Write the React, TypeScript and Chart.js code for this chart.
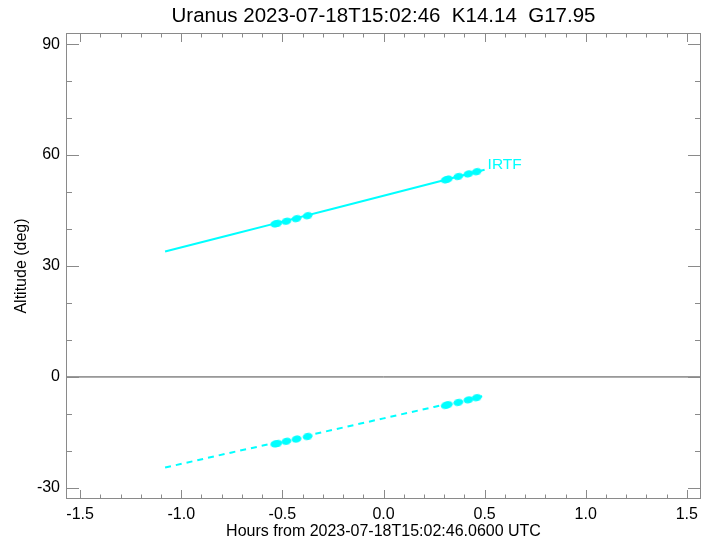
import React, { useEffect, useRef } from "react";
import { Chart, registerables } from "chart.js";

Chart.register(...registerables);

const TITLE = "Uranus 2023-07-18T15:02:46  K14.14  G17.95";
const X_TITLE = "Hours from 2023-07-18T15:02:46.0600 UTC";
const Y_TITLE = "Altitude (deg)";
const SITE_LABEL = "IRTF";

// altitude tracks (solid = target, dashed = lower track)
const lineHours = [-1.08, -0.75, -0.5, -0.25, 0, 0.25, 0.5];
const upperAltitude = [33.9, 38.5, 42.0, 45.5, 49.0, 52.5, 56.0];
const lowerAltitude = [-24.5, -20.4, -17.4, -14.3, -11.2, -8.1, -5.1];

// observation markers
const obsHours = [-0.535, -0.525, -0.48, -0.43, -0.375, 0.308, 0.318, 0.37, 0.42, 0.461];
const obsUpper = [41.4, 41.5, 42.1, 42.8, 43.6, 53.3, 53.5, 54.2, 54.9, 55.5];
const obsLower = [-18.1, -18.0, -17.4, -16.8, -16.1, -7.7, -7.5, -6.9, -6.2, -5.6];

const xTicks = [-1.5, -1.0, -0.5, 0, 0.5, 1.0, 1.5];
const yTicks = [-30, 0, 30, 60, 90];
const xRange = [-1.57, 1.57];
const yRange = [-33, 93];
const zeroLevel = [0, 0];

const FONT = "'Liberation Sans', Arial, Helvetica, sans-serif";
const CYAN = "#00ffff";
const AXIS = "#8a8a8a";

function makeEllipse(w: number, h: number, color: string) {
  const c = document.createElement("canvas");
  c.width = w;
  c.height = h;
  const ctx = c.getContext("2d")!;
  ctx.fillStyle = color;
  ctx.beginPath();
  ctx.ellipse(w / 2, h / 2, w / 2, h / 2, 0, 0, Math.PI * 2);
  ctx.fill();
  return c;
}

const framePlugin = {
  id: "frame",
  afterDraw(chart: any) {
    const { ctx, chartArea: a, scales } = chart;
    const x = scales.x;
    const y = scales.y;
    ctx.save();
    ctx.strokeStyle = AXIS;
    ctx.lineWidth = 1;
    ctx.strokeRect(a.left + 0.5, a.top + 0.5, a.right - a.left - 1, a.bottom - a.top - 1);
    ctx.beginPath();
    // x ticks (major + 4 minor per interval), bottom and top, pointing inward
    for (let i = 0; i < xTicks.length; i++) {
      const px = Math.round(x.getPixelForValue(xTicks[i])) + 0.5;
      ctx.moveTo(px, a.bottom);
      ctx.lineTo(px, a.bottom - 9);
      ctx.moveTo(px, a.top);
      ctx.lineTo(px, a.top + 9);
      if (i < xTicks.length - 1) {
        const step = (xTicks[i + 1] - xTicks[i]) / 5;
        for (let k = 1; k < 5; k++) {
          const mx = Math.round(x.getPixelForValue(xTicks[i] + k * step)) + 0.5;
          ctx.moveTo(mx, a.bottom);
          ctx.lineTo(mx, a.bottom - 4.5);
          ctx.moveTo(mx, a.top);
          ctx.lineTo(mx, a.top + 4.5);
        }
      }
    }
    // y ticks (major + 2 minor per interval), left and right, pointing inward
    for (let i = 0; i < yTicks.length; i++) {
      const py = Math.round(y.getPixelForValue(yTicks[i])) + 0.5;
      ctx.moveTo(a.left, py);
      ctx.lineTo(a.left + 13, py);
      ctx.moveTo(a.right, py);
      ctx.lineTo(a.right - 13, py);
      if (i < yTicks.length - 1) {
        const step = (yTicks[i + 1] - yTicks[i]) / 3;
        for (let k = 1; k < 3; k++) {
          const my = Math.round(y.getPixelForValue(yTicks[i] + k * step)) + 0.5;
          ctx.moveTo(a.left, my);
          ctx.lineTo(a.left + 6, my);
          ctx.moveTo(a.right, my);
          ctx.lineTo(a.right - 6, my);
        }
      }
    }
    ctx.stroke();

    // site label at the end of the solid track
    const n = lineHours.length - 1;
    const ex = x.getPixelForValue(lineHours[n]);
    const ey = y.getPixelForValue(upperAltitude[n]);
    ctx.fillStyle = CYAN;
    ctx.font = `15.5px ${FONT}`;
    ctx.textAlign = "left";
    ctx.textBaseline = "alphabetic";
    ctx.fillText(SITE_LABEL, ex + 3, ey - 0.5);
    ctx.restore();
  },
};

export default function App() {
  const ref = useRef<HTMLCanvasElement | null>(null);

  useEffect(() => {
    if (!ref.current) return;
    const marker = makeEllipse(10, 7, CYAN);
    const chart = new Chart(ref.current, {
      type: "scatter",
      data: {
        datasets: [
          {
            label: "zero",
            data: xRange.map((v, i) => ({ x: v, y: zeroLevel[i] })),
            showLine: true,
            borderColor: "#4a4a4a",
            borderWidth: 1,
            pointRadius: 0,
          },
          {
            label: "upper",
            data: lineHours.map((h, i) => ({ x: h, y: upperAltitude[i] })),
            showLine: true,
            borderColor: CYAN,
            borderWidth: 2,
            pointRadius: 0,
          },
          {
            label: "lower",
            data: lineHours.map((h, i) => ({ x: h, y: lowerAltitude[i] })),
            showLine: true,
            borderColor: CYAN,
            borderWidth: 2,
            borderDash: [6, 5],
            pointRadius: 0,
          },
          {
            label: "upper obs",
            data: obsHours.map((h, i) => ({ x: h, y: obsUpper[i] })),
            showLine: false,
            pointStyle: marker as any,
            pointRotation: -14,
            backgroundColor: CYAN,
            borderColor: CYAN,
          },
          {
            label: "lower obs",
            data: obsHours.map((h, i) => ({ x: h, y: obsLower[i] })),
            showLine: false,
            pointStyle: marker as any,
            pointRotation: -12,
            backgroundColor: CYAN,
            borderColor: CYAN,
          },
        ],
      },
      options: {
        animation: false,
        responsive: false,
        layout: { padding: { left: 0, right: 9, top: 0, bottom: 0 } },
        plugins: {
          legend: { display: false },
          tooltip: { enabled: false },
          title: {
            display: true,
            text: TITLE,
            fullSize: false,
            color: "#000",
            font: { family: FONT, size: 20.5, weight: "normal" },
            padding: { top: 4, bottom: 4.4 },
          },
        },
        scales: {
          x: {
            type: "linear",
            min: xRange[0],
            max: xRange[1],
            grid: { display: false, drawTicks: false },
            border: { display: false },
            ticks: {
              color: "#000",
              font: { family: FONT, size: 16 },
              padding: 6,
              maxRotation: 0,
              callback: (v: any) => Number(v).toFixed(1),
            },
            afterBuildTicks: (s: any) => {
              s.ticks = xTicks.map((v) => ({ value: v }));
            },
            afterFit: (s: any) => {
              s.height = 43;
            },
            title: {
              display: true,
              text: X_TITLE,
              color: "#000",
              font: { family: FONT, size: 16 },
              padding: { top: 0, bottom: 1 },
            },
          },
          y: {
            type: "linear",
            min: yRange[0],
            max: yRange[1],
            grid: { display: false, drawTicks: false },
            border: { display: false },
            ticks: {
              color: "#000",
              font: { family: FONT, size: 16 },
              padding: 6,
              callback: (v: any) => String(v),
            },
            afterBuildTicks: (s: any) => {
              s.ticks = yTicks.map((v) => ({ value: v }));
            },
            afterFit: (s: any) => {
              s.width = 66;
            },
            title: {
              display: true,
              text: Y_TITLE,
              color: "#000",
              font: { family: FONT, size: 16 },
              padding: { top: 12, bottom: 0 },
            },
          },
        },
      },
      plugins: [framePlugin],
    });
    return () => chart.destroy();
  }, []);

  return (
    <div style={{ position: "fixed", left: 0, top: 0, width: 710, height: 542, background: "#fff" }}>
      <canvas ref={ref} width={710} height={542} style={{ display: "block" }} />
    </div>
  );
}
